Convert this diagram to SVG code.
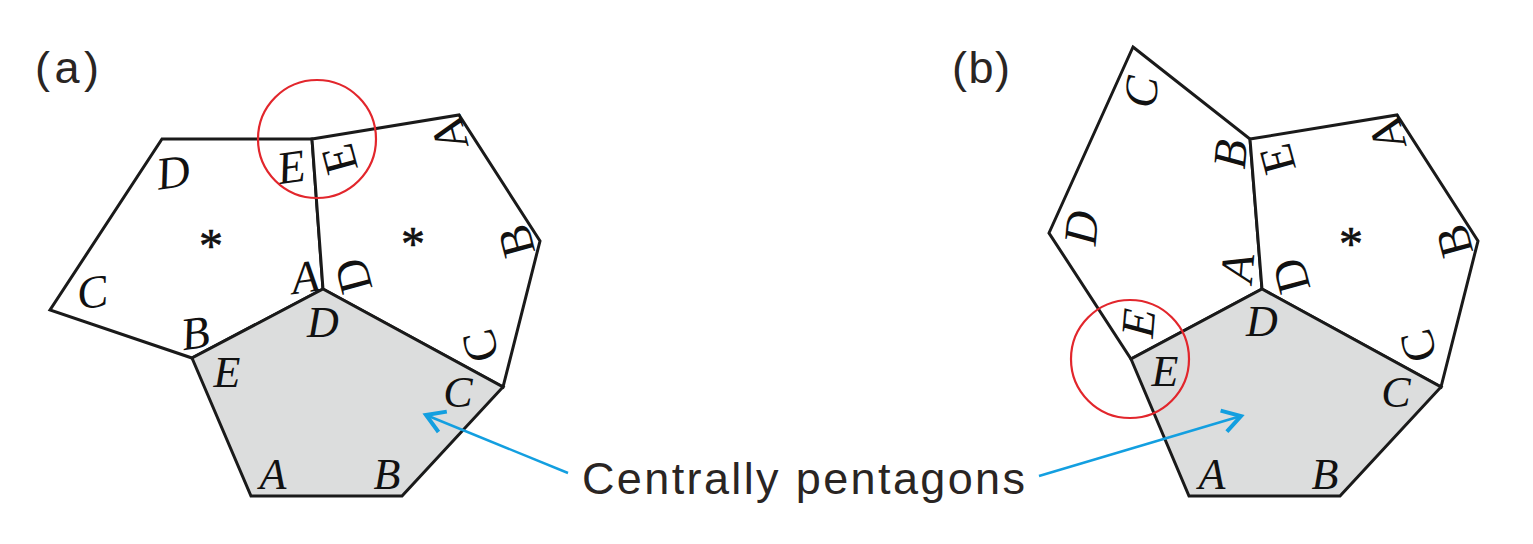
<svg xmlns="http://www.w3.org/2000/svg" width="1533" height="544" viewBox="0 0 1533 544">
<defs>
<style>
.pent{fill:#ffffff;stroke:#1a1a1a;stroke-width:3;stroke-linejoin:miter}
.core{fill:#dcdddd;stroke:#1a1a1a;stroke-width:3;stroke-linejoin:miter}
.lt{font-family:"Liberation Serif","Times New Roman",serif;font-size:46px;fill:#111;text-anchor:middle;dominant-baseline:central}
.it{font-style:italic}
.ct{font-size:44px}
.rt{font-size:47px}
.star{font-family:"Liberation Serif","Times New Roman",serif;font-size:48px;fill:#111;text-anchor:middle;dominant-baseline:central;stroke:#111;stroke-width:0.6}
.cap{font-family:"Liberation Sans",Arial,sans-serif;font-size:45px;fill:#2a2523}
.ring{fill:none;stroke:#e2262c;stroke-width:2.2}
.arrow{fill:none;stroke:#139fe0;stroke-width:2.5;marker-end:url(#ah)}
</style>
<marker id="ah" markerUnits="userSpaceOnUse" viewBox="-25 -15 30 30" markerWidth="30" markerHeight="30" refX="0" refY="0" orient="auto" overflow="visible">
<path d="M-18,-11 L0,0 L-18,11" fill="none" stroke="#139fe0" stroke-width="4"/>
</marker>
</defs>
<rect width="1533" height="544" fill="#ffffff"/>

<text class="cap" x="35" y="83" textLength="64" lengthAdjust="spacing">(a)</text>
<text class="cap" x="952" y="83" textLength="58" lengthAdjust="spacing">(b)</text>

<!-- Panel (a) -->
<g id="a-left">
<polygon class="pent" points="162,139 312,139 323,289 192,358 50,310"/>
<text class="lt it" transform="translate(173,172) rotate(-8)">D</text>
<text class="lt it" transform="translate(291,167) rotate(-8)">E</text>
<text class="lt it" transform="translate(305,277) rotate(-8)">A</text>
<text class="lt it" transform="translate(195,333) rotate(-8)">B</text>
<text class="lt it" transform="translate(92,292) rotate(-8)">C</text>
<text class="star" x="211" y="245">*</text>
</g>
<g id="a-right">
<polygon class="pent" points="312,139 459,115 540,241 503,387 323,289"/>
<text class="lt rt" transform="translate(339,159) rotate(-105)">E</text>
<text class="lt rt" transform="translate(449,134) rotate(-105)">A</text>
<text class="lt rt" transform="translate(516,241) rotate(-105)">B</text>
<text class="lt rt" transform="translate(480,346) rotate(-105)">C</text>
<text class="lt rt" transform="translate(353,276) rotate(-105)">D</text>
<text class="star" x="413" y="243">*</text>
</g>
<g id="a-center">
<polygon class="core" points="323,289 503,387 402,496 251,496 192,358"/>
<text class="lt it ct" x="323" y="322">D</text>
<text class="lt it ct" x="227" y="372">E</text>
<text class="lt it ct" x="273" y="474">A</text>
<text class="lt it ct" x="387" y="474">B</text>
<text class="lt it ct" x="458" y="392">C</text>
</g>
<g id="a-ring">
<circle class="ring" cx="317" cy="139" r="59"/>
</g>

<!-- Panel (b) -->
<g id="b-left">
<polygon class="pent" points="1133,47 1250,139 1262,289 1131,359 1049,233"/>
<text class="lt it rt" transform="translate(1141,92) rotate(-85)">C</text>
<text class="lt it rt" transform="translate(1230,154) rotate(-85)">B</text>
<text class="lt it rt" transform="translate(1237,268) rotate(-85)">A</text>
<text class="lt it rt" transform="translate(1138,323) rotate(-85)">E</text>
<text class="lt it rt" transform="translate(1081,228) rotate(-85)">D</text>
</g>
<g id="b-right">
<polygon class="pent" points="1250,139 1397,115 1478,241 1441,387 1262,289"/>
<text class="lt rt" transform="translate(1277,159) rotate(-105)">E</text>
<text class="lt rt" transform="translate(1387,134) rotate(-105)">A</text>
<text class="lt rt" transform="translate(1454,241) rotate(-105)">B</text>
<text class="lt rt" transform="translate(1418,346) rotate(-105)">C</text>
<text class="lt rt" transform="translate(1291,276) rotate(-105)">D</text>
<text class="star" x="1351" y="243">*</text>
</g>
<g id="b-center">
<polygon class="core" points="1262,289 1441,387 1340,496 1189,496 1131,359"/>
<text class="lt it ct" x="1262" y="321">D</text>
<text class="lt it ct" x="1165" y="371">E</text>
<text class="lt it ct" x="1212" y="474">A</text>
<text class="lt it ct" x="1325" y="474">B</text>
<text class="lt it ct" x="1396" y="392">C</text>
</g>
<g id="b-ring">
<circle class="ring" cx="1130" cy="359" r="59"/>
</g>

<g id="label">
<text class="cap" x="582" y="494" textLength="443" lengthAdjust="spacing">Centrally pentagons</text>
</g>

<g id="connectors">
<path class="arrow" d="M568,473 L426,415"/>
<path class="arrow" d="M1039,476 L1241,416"/>
</g>
</svg>
